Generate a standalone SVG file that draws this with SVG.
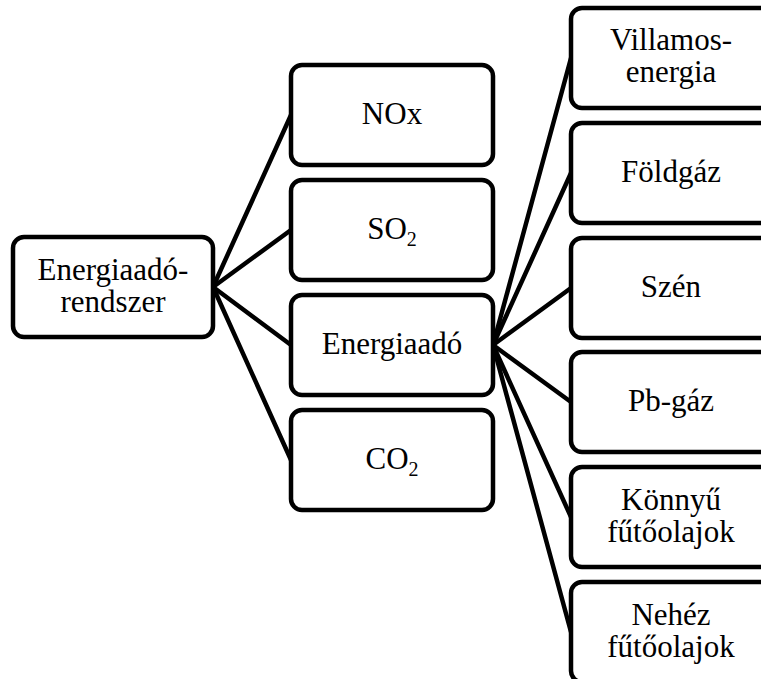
<svg xmlns="http://www.w3.org/2000/svg" width="761" height="679" viewBox="0 0 761 679">
<style>
.box{fill:#fff;stroke:#000;stroke-width:4.5}
.t{font-family:'Liberation Serif','DejaVu Serif',serif;font-size:31px;fill:#000;text-anchor:middle}
.sub{font-size:20px}
.c{stroke:#000;stroke-width:4.5;fill:none;stroke-linecap:round}
</style>
<rect width="761" height="679" fill="#fff"/>
<g id="connectors">
<line class="c" x1="213" y1="287" x2="291" y2="115"/>
<line class="c" x1="213" y1="287" x2="291" y2="230"/>
<line class="c" x1="213" y1="287" x2="291" y2="345"/>
<line class="c" x1="213" y1="287" x2="291" y2="460"/>
<line class="c" x1="493" y1="345" x2="571" y2="58"/>
<line class="c" x1="493" y1="345" x2="571" y2="173"/>
<line class="c" x1="493" y1="345" x2="571" y2="288"/>
<line class="c" x1="493" y1="345" x2="571" y2="402"/>
<line class="c" x1="493" y1="345" x2="571" y2="517"/>
<line class="c" x1="493" y1="345" x2="571" y2="632"/>
</g>
<g id="n-energiaado-rendszer">
<rect class="box" x="13" y="237" width="200" height="100" rx="11"/>
<text class="t" x="113" y="280">Energiaadó-</text>
<text class="t" x="113" y="312">rendszer</text>
</g>
<g id="n-nox">
<rect class="box" x="291" y="65" width="202" height="100" rx="11"/>
<text class="t" x="392" y="124">NOx</text>
</g>
<g id="n-so2">
<rect class="box" x="291" y="180" width="202" height="100" rx="11"/>
<text class="t" x="392" y="239">SO<tspan class="sub" dy="7">2</tspan></text>
</g>
<g id="n-energiaado">
<rect class="box" x="291" y="295" width="202" height="100" rx="11"/>
<text class="t" x="392" y="354">Energiaadó</text>
</g>
<g id="n-co2">
<rect class="box" x="291" y="410" width="202" height="100" rx="11"/>
<text class="t" x="392" y="469">CO<tspan class="sub" dy="7">2</tspan></text>
</g>
<g id="n-villamosenergia">
<rect class="box" x="571" y="8" width="202" height="100" rx="11"/>
<text class="t" x="671" y="50">Villamos-</text>
<text class="t" x="671" y="82">energia</text>
</g>
<g id="n-foldgaz">
<rect class="box" x="571" y="123" width="202" height="100" rx="11"/>
<text class="t" x="671" y="182">Földgáz</text>
</g>
<g id="n-szen">
<rect class="box" x="571" y="238" width="202" height="100" rx="11"/>
<text class="t" x="671" y="297">Szén</text>
</g>
<g id="n-pbgaz">
<rect class="box" x="571" y="352" width="202" height="100" rx="11"/>
<text class="t" x="671" y="411">Pb-gáz</text>
</g>
<g id="n-konnyu">
<rect class="box" x="571" y="467" width="202" height="100" rx="11"/>
<text class="t" x="671" y="510">Könnyű</text>
<text class="t" x="671" y="542">fűtőolajok</text>
</g>
<g id="n-nehez">
<rect class="box" x="571" y="582" width="202" height="100" rx="11"/>
<text class="t" x="671" y="625">Nehéz</text>
<text class="t" x="671" y="657">fűtőolajok</text>
</g>
</svg>
